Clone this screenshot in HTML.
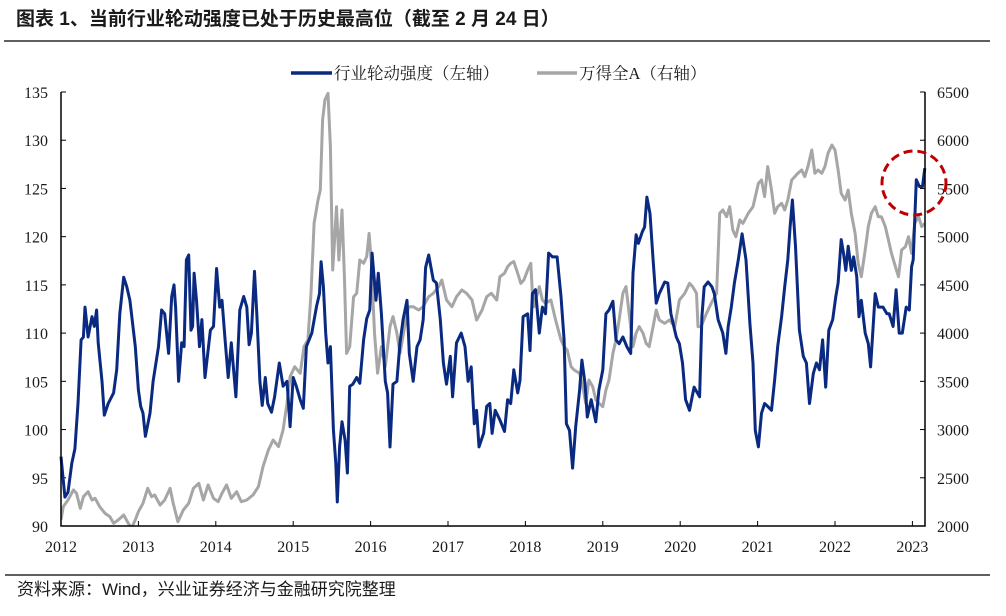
<!DOCTYPE html>
<html><head><meta charset="utf-8">
<style>
body{margin:0;background:#fff;width:1006px;height:611px;overflow:hidden;font-family:"Liberation Serif","Noto Serif CJK SC",serif;}
</style></head>
<body>
<svg id="chart" width="1006" height="611" xmlns="http://www.w3.org/2000/svg">
<text x="16" y="25" font-family="'Liberation Sans','Noto Sans CJK SC',sans-serif" font-weight="bold" font-size="19" fill="#1a1a1a">图表 1、当前行业轮动强度已处于历史最高位（截至 2 月 24 日）</text>
<line x1="4" y1="41" x2="990" y2="41" stroke="#000" stroke-width="1.2"/>
<line x1="5" y1="575" x2="990" y2="575" stroke="#000" stroke-width="1.2"/>
<text x="17" y="595" font-family="'Liberation Sans','Noto Sans CJK SC',sans-serif" font-size="17" fill="#1a1a1a">资料来源：Wind，兴业证券经济与金融研究院整理</text>
<g>
<line x1="291" y1="73" x2="332" y2="73" stroke="#0a2a82" stroke-width="3.5"/>
<text x="334" y="79" font-family="'Liberation Serif','Noto Serif CJK SC',serif" font-size="16.5" fill="#1a1a1a">行业轮动强度（左轴）</text>
<line x1="537" y1="73" x2="577" y2="73" stroke="#a6a6a6" stroke-width="3.5"/>
<text x="579" y="79" font-family="'Liberation Serif','Noto Serif CJK SC',serif" font-size="16.5" fill="#1a1a1a">万得全A（右轴）</text>
</g>
<g id="plot"></g>
<ellipse cx="914" cy="183" rx="32" ry="32" fill="none" stroke="#c00000" stroke-width="3" stroke-dasharray="9,5"/>
</svg>
<script>
const xTicks=[2012,2013,2014,2015,2016,2017,2018,2019,2020,2021,2022,2023];
const leftTicks=[90,95,100,105,110,115,120,125,130,135];
const rightTicks=[2000,2500,3000,3500,4000,4500,5000,5500,6000,6500];
const rotDates=[2012.00,2012.05,2012.09,2012.14,2012.18,2012.22,2012.26,2012.29,2012.31,2012.35,2012.40,2012.43,2012.46,2012.48,2012.53,2012.56,2012.61,2012.68,2012.72,2012.76,2012.81,2012.85,2012.89,2012.96,2013.00,2013.03,2013.06,2013.09,2013.15,2013.19,2013.26,2013.30,2013.34,2013.39,2013.43,2013.46,2013.48,2013.52,2013.56,2013.59,2013.62,2013.65,2013.68,2013.70,2013.72,2013.75,2013.79,2013.82,2013.86,2013.93,2013.97,2014.01,2014.05,2014.08,2014.12,2014.16,2014.20,2014.26,2014.31,2014.36,2014.40,2014.43,2014.46,2014.50,2014.53,2014.57,2014.60,2014.64,2014.67,2014.72,2014.76,2014.82,2014.87,2014.92,2014.96,2015.00,2015.04,2015.09,2015.13,2015.17,2015.24,2015.30,2015.34,2015.36,2015.39,2015.42,2015.45,2015.48,2015.52,2015.55,2015.57,2015.60,2015.63,2015.67,2015.70,2015.73,2015.77,2015.82,2015.86,2015.91,2015.95,2015.99,2016.02,2016.07,2016.10,2016.14,2016.19,2016.22,2016.25,2016.29,2016.34,2016.38,2016.42,2016.47,2016.50,2016.55,2016.60,2016.64,2016.68,2016.71,2016.75,2016.81,2016.85,2016.90,2016.94,2016.98,2017.03,2017.06,2017.11,2017.17,2017.22,2017.26,2017.30,2017.34,2017.37,2017.40,2017.46,2017.50,2017.54,2017.57,2017.61,2017.67,2017.73,2017.77,2017.81,2017.85,2017.90,2017.93,2017.97,2018.03,2018.06,2018.09,2018.13,2018.18,2018.22,2018.26,2018.30,2018.35,2018.41,2018.46,2018.50,2018.53,2018.57,2018.61,2018.65,2018.70,2018.73,2018.77,2018.80,2018.85,2018.91,2018.95,2019.00,2019.04,2019.08,2019.13,2019.17,2019.21,2019.26,2019.31,2019.36,2019.39,2019.43,2019.46,2019.51,2019.54,2019.57,2019.61,2019.65,2019.69,2019.73,2019.80,2019.84,2019.88,2019.95,2019.99,2020.03,2020.07,2020.12,2020.18,2020.25,2020.28,2020.31,2020.36,2020.41,2020.44,2020.49,2020.55,2020.59,2020.62,2020.66,2020.70,2020.75,2020.80,2020.85,2020.90,2020.94,2020.97,2021.01,2021.05,2021.09,2021.13,2021.18,2021.22,2021.26,2021.31,2021.35,2021.39,2021.42,2021.45,2021.49,2021.54,2021.59,2021.63,2021.67,2021.72,2021.76,2021.80,2021.84,2021.88,2021.92,2021.97,2022.01,2022.04,2022.08,2022.11,2022.14,2022.17,2022.21,2022.24,2022.28,2022.31,2022.34,2022.39,2022.43,2022.46,2022.52,2022.56,2022.62,2022.67,2022.70,2022.75,2022.79,2022.83,2022.87,2022.92,2022.96,2022.99,2023.01,2023.05,2023.09,2023.13,2023.16];
const rotValues=[97.2,93,93.5,96.5,98,102.7,109.3,109.6,112.7,109.6,111.7,110.7,112.4,109,105,101.5,102.7,103.8,106.2,112,115.8,114.8,113.4,108.6,104.1,102.4,101.7,99.3,101.7,105,108.6,112.4,112,107.9,113.8,115,112.7,105,109,108.6,117.6,118.1,110.3,110.7,116.2,113.4,108.6,111.4,105.4,110.3,110.7,116.7,112.7,113.4,109.3,105.4,109,103.4,112.4,113.8,112.7,108.8,110,116.4,112,105,102.5,105.4,102.7,101.8,103.4,106.9,104.5,105,100.3,105.4,104.5,103.1,102.2,108.6,110,112.7,114.1,117.4,114.8,110,106.9,108.6,100,96.5,92.5,98.2,100.8,98.9,95.5,104.5,104.7,105.4,104.8,109.3,111.5,112.4,118.3,113.4,116.2,112,105,103.8,98.2,104.7,105,109,111.4,113.4,107.9,105,108.6,109.3,111.4,116.8,118.1,115.5,115.2,111.4,106.9,104.7,107.6,103.4,109,110,108.6,105,106.5,100.6,102,98.2,99.6,102.4,102.7,99.6,102,101,99.8,103.1,102.7,106.2,103.8,105.1,111.7,112,108.2,114.1,114.5,110,112.7,112,118.3,117.9,117.9,113.8,109.3,100.6,99.9,96,100.3,104.1,107.2,104.8,101.3,103.1,100.8,104.1,106.2,112,112.4,113.3,109.3,108.9,109.6,108.6,107.9,116.2,120.2,119.3,120.5,121,124.1,122.4,117.6,113.1,114.1,115.3,115.2,112,109.6,108.9,106.9,103.1,102,104.4,103.4,111.7,114.8,115.3,114.8,114.1,111.4,110,107.9,110.7,112.7,115.2,117.6,120.3,117.6,111,106.9,99.9,98.2,101.7,102.7,102.4,102,105.1,108.6,111.7,114.8,117.6,121,123.8,119,110.3,107.6,106.9,102.7,105.8,106.9,106.2,109.3,104.4,110.3,111.4,113.8,115.2,119.7,118.3,116.5,119,116.5,117.9,115.9,111.7,113.4,110,108.9,106.5,114.1,112.7,112.7,112,112,110.7,114.5,110,110,112.7,112.4,116.9,117.6,125.9,125.2,125.2,127.1];
const windDates=[2012.00,2012.03,2012.09,2012.16,2012.20,2012.25,2012.29,2012.35,2012.40,2012.44,2012.50,2012.57,2012.63,2012.68,2012.74,2012.81,2012.87,2012.91,2012.96,2013.00,2013.06,2013.12,2013.17,2013.21,2013.28,2013.34,2013.41,2013.45,2013.51,2013.58,2013.65,2013.71,2013.78,2013.84,2013.90,2013.97,2014.03,2014.08,2014.14,2014.20,2014.27,2014.33,2014.40,2014.48,2014.55,2014.61,2014.68,2014.74,2014.81,2014.87,2014.92,2014.96,2015.02,2015.09,2015.14,2015.19,2015.23,2015.27,2015.32,2015.35,2015.38,2015.41,2015.45,2015.48,2015.51,2015.53,2015.56,2015.59,2015.63,2015.66,2015.69,2015.73,2015.78,2015.82,2015.86,2015.91,2015.95,2015.98,2016.01,2016.05,2016.09,2016.14,2016.19,2016.25,2016.29,2016.34,2016.38,2016.44,2016.49,2016.55,2016.62,2016.68,2016.75,2016.81,2016.88,2016.92,2016.98,2017.05,2017.11,2017.18,2017.24,2017.31,2017.37,2017.44,2017.50,2017.56,2017.63,2017.67,2017.73,2017.77,2017.81,2017.85,2017.90,2017.94,2017.98,2018.03,2018.07,2018.09,2018.11,2018.18,2018.22,2018.26,2018.33,2018.39,2018.46,2018.50,2018.54,2018.59,2018.63,2018.70,2018.74,2018.78,2018.82,2018.87,2018.91,2018.95,2019.00,2019.04,2019.08,2019.13,2019.17,2019.21,2019.26,2019.30,2019.34,2019.39,2019.43,2019.47,2019.52,2019.56,2019.60,2019.65,2019.69,2019.73,2019.80,2019.86,2019.93,2019.99,2020.06,2020.12,2020.16,2020.21,2020.23,2020.27,2020.34,2020.40,2020.47,2020.51,2020.55,2020.60,2020.64,2020.68,2020.72,2020.77,2020.81,2020.88,2020.94,2021.01,2021.05,2021.09,2021.13,2021.18,2021.22,2021.26,2021.31,2021.35,2021.39,2021.44,2021.48,2021.52,2021.57,2021.61,2021.65,2021.70,2021.74,2021.78,2021.83,2021.87,2021.91,2021.96,2022.00,2022.04,2022.08,2022.13,2022.17,2022.21,2022.26,2022.30,2022.34,2022.39,2022.43,2022.47,2022.52,2022.56,2022.60,2022.65,2022.69,2022.73,2022.78,2022.82,2022.86,2022.91,2022.95,2022.99,2023.03,2023.08,2023.12,2023.16];
const windValues=[2063,2200,2270,2374,2339,2183,2304,2356,2270,2287,2200,2131,2097,2028,2063,2114,2028,1976,2063,2149,2235,2391,2304,2321,2218,2270,2391,2235,2045,2166,2235,2391,2443,2270,2426,2287,2252,2339,2426,2287,2356,2252,2270,2321,2408,2615,2788,2892,2823,2996,3272,3549,3652,3583,3860,3929,4413,5138,5380,5484,6210,6417,6486,5933,4654,4896,5311,4758,5276,4620,3790,3860,4378,4413,4758,4724,4793,5034,4724,4000,3583,3860,3652,4067,4171,4000,3790,4067,4274,4274,4240,4274,4378,4413,4482,4551,4343,4274,4378,4447,4413,4343,4136,4240,4378,4413,4343,4585,4620,4689,4724,4741,4620,4516,4551,4654,4724,4413,4274,4482,4343,4309,4343,4136,3929,3860,3825,3652,3618,3583,3445,3272,3514,3445,3307,3272,3238,3410,3514,3790,3929,4136,4413,4482,4205,3860,4000,4067,4000,3894,3860,4067,4240,4136,4102,4136,4067,4343,4413,4516,4482,4413,4067,4067,4205,4309,4413,5242,5277,5207,5311,5069,5000,5173,5138,5242,5311,5553,5588,5415,5726,5484,5242,5311,5346,5277,5380,5588,5622,5657,5691,5622,5726,5899,5657,5691,5657,5726,5864,5950,5899,5691,5449,5380,5484,5242,5035,4724,4585,4862,5104,5242,5311,5207,5207,5104,4966,4827,4689,4585,4862,4896,5000,4827,5138,5207,5104,5138];

const NS='http://www.w3.org/2000/svg';
const plot=document.getElementById('plot');
const X0=61,X1=925,YT=92,YB=526;
const xs=t=>X0+(t-2012)*77.4;
const yl=v=>YB-(v-90)/45*(YB-YT);
const yr=v=>YB-(v-2000)/4500*(YB-YT);
function mk(tag,attrs){const e=document.createElementNS(NS,tag);for(const k in attrs)e.setAttribute(k,attrs[k]);plot.appendChild(e);return e;}
const FONT="'Liberation Serif',serif";
leftTicks.forEach(v=>{
  const t=mk('line',{x1:X0,x2:X0+5,y1:yl(v),y2:yl(v),stroke:'#000','stroke-width':1});
  
  
  const l=mk('text',{x:48,y:yl(v)+6,'text-anchor':'end','font-size':16,'font-family':FONT,fill:'#1a1a1a'});
  l.textContent=v;
  
  
});
rightTicks.forEach(v=>{
  const t=mk('line',{x1:X1-5,x2:X1,y1:yr(v),y2:yr(v),stroke:'#000','stroke-width':1});
  
  
  const l=mk('text',{x:937,y:yr(v)+6,'font-size':16,'font-family':FONT,fill:'#1a1a1a'});
  l.textContent=v;
  
  
});
xTicks.forEach(v=>{
  const t=mk('line',{x1:xs(v),x2:xs(v),y1:YB-5,y2:YB,stroke:'#000','stroke-width':1});
  
  
  const l=mk('text',{x:xs(v),y:552,'text-anchor':'middle','font-size':16,'font-family':FONT,fill:'#1a1a1a'});
  l.textContent=v;
  
  
});
const cp=mk('clipPath',{id:'clip'});
const cr=document.createElementNS(NS,'rect');
cr.setAttribute('x',X0);cr.setAttribute('y',YT);cr.setAttribute('width',X1-X0);cr.setAttribute('height',YB-YT);
cp.appendChild(cr);
const gp=windDates.map((t,i)=>xs(t).toFixed(1)+','+yr(windValues[i]).toFixed(1)).join(' ');
const g=mk('polyline',{points:gp,fill:'none',stroke:'#a6a6a6','stroke-width':3,'stroke-linejoin':'round','clip-path':'url(#clip)'});


const bp=rotDates.map((t,i)=>xs(t).toFixed(1)+','+yl(rotValues[i]).toFixed(1)).join(' ');
const b=mk('polyline',{points:bp,fill:'none',stroke:'#0a2a82','stroke-width':3,'stroke-linejoin':'round'});


const ax=mk('path',{d:`M${X0},${YT} V${YB} H${X1} V${YT}`,fill:'none',stroke:'#000','stroke-width':1.5});


</script>
</body></html>
